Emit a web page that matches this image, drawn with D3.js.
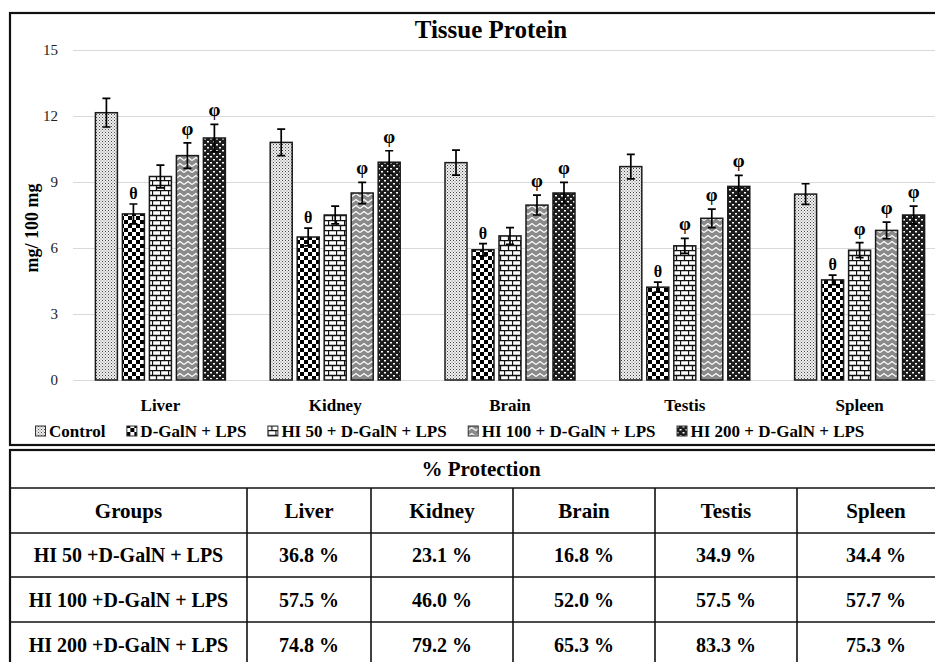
<!DOCTYPE html>
<html>
<head>
<meta charset="utf-8">
<script src="https://cdn.jsdelivr.net/npm/d3@7"></script>
<style>
  body { margin: 0; background: #fff; }
  svg { display: block; font-family: "Liberation Serif", "Times New Roman", serif; }
</style>
</head>
<body>
<svg id="chart" width="935" height="662"></svg>
<script>
// ---- data ----
var organs = ["Liver", "Kidney", "Brain", "Testis", "Spleen"];
var groups = ["Control", "D-GalN + LPS", "HI 50 + D-GalN + LPS", "HI 100 + D-GalN + LPS", "HI 200 + D-GalN + LPS"];

var controlVals = [12.15, 10.8, 9.88, 9.7, 8.45];
var dgalnVals   = [7.55, 6.5, 5.92, 4.22, 4.55];
var hi50Vals    = [9.25, 7.5, 6.55, 6.1, 5.9];
var hi100Vals   = [10.2, 8.5, 7.95, 7.35, 6.8];
var hi200Vals   = [11.0, 9.9, 8.5, 8.8, 7.5];

var controlErr = [0.65, 0.6, 0.57, 0.56, 0.47];
var dgalnErr   = [0.45, 0.4, 0.28, 0.23, 0.22];
var hi50Err    = [0.52, 0.4, 0.38, 0.34, 0.34];
var hi100Err   = [0.58, 0.48, 0.45, 0.42, 0.38];
var hi200Err   = [0.62, 0.52, 0.48, 0.5, 0.4];

var controlMarks = ["", "", "", "", ""];
var dgalnMarks   = ["θ", "θ", "θ", "θ", "θ"];
var hi50Marks    = ["", "", "", "φ", "φ"];
var hi100Marks   = ["φ", "φ", "φ", "φ", "φ"];
var hi200Marks   = ["φ", "φ", "φ", "φ", "φ"];

var yTicks = [0, 3, 6, 9, 12, 15];

var tableTitle = "% Protection";
var tableHeader = ["Groups", "Liver", "Kidney", "Brain", "Testis", "Spleen"];
var tableGroups = ["HI 50 +D-GalN + LPS", "HI 100 +D-GalN + LPS", "HI 200 +D-GalN + LPS"];
var protect50  = ["36.8 %", "23.1 %", "16.8 %", "34.9 %", "34.4 %"];
var protect100 = ["57.5 %", "46.0 %", "52.0 %", "57.5 %", "57.7 %"];
var protect200 = ["74.8 %", "79.2 %", "65.3 %", "83.3 %", "75.3 %"];

var series = [
  { key: groups[0], values: controlVals, err: controlErr, marks: controlMarks, pat: "p-control" },
  { key: groups[1], values: dgalnVals,   err: dgalnErr,   marks: dgalnMarks,   pat: "p-dgaln" },
  { key: groups[2], values: hi50Vals,    err: hi50Err,    marks: hi50Marks,    pat: "p-hi50" },
  { key: groups[3], values: hi100Vals,   err: hi100Err,   marks: hi100Marks,   pat: "p-hi100" },
  { key: groups[4], values: hi200Vals,   err: hi200Err,   marks: hi200Marks,   pat: "p-hi200" }
];

var svg = d3.select("#chart");

// ---- fill patterns ----
var defs = svg.append("defs");

var p = defs.append("pattern").attr("id", "p-control").attr("patternUnits", "userSpaceOnUse")
    .attr("width", 3).attr("height", 3);
p.append("rect").attr("width", 3).attr("height", 3).attr("fill", "#f0f0f0");
p.append("rect").attr("x", 0).attr("y", 0).attr("width", 1).attr("height", 1).attr("fill", "#444");
p.append("rect").attr("x", 1.5).attr("y", 1.5).attr("width", 1).attr("height", 1).attr("fill", "#777");

p = defs.append("pattern").attr("id", "p-dgaln").attr("patternUnits", "userSpaceOnUse")
    .attr("width", 8).attr("height", 8);
p.append("rect").attr("width", 8).attr("height", 8).attr("fill", "#fff");
p.append("rect").attr("x", 0).attr("y", 0).attr("width", 4).attr("height", 4).attr("fill", "#000");
p.append("rect").attr("x", 4).attr("y", 4).attr("width", 4).attr("height", 4).attr("fill", "#000");

p = defs.append("pattern").attr("id", "p-hi50").attr("patternUnits", "userSpaceOnUse")
    .attr("width", 8).attr("height", 10);
p.append("rect").attr("width", 8).attr("height", 10).attr("fill", "#fff");
p.append("path").attr("d", "M0,0.5H8M0,5.5H8M0.5,0V5.5M4.5,5.5V10")
    .attr("stroke", "#111").attr("stroke-width", 1.3).attr("fill", "none");

p = defs.append("pattern").attr("id", "p-hi100").attr("patternUnits", "userSpaceOnUse")
    .attr("width", 8).attr("height", 6);
p.append("rect").attr("width", 8).attr("height", 6).attr("fill", "#8a8a8a");
p.append("path").attr("d", "M0,4.5L4,1.5L8,4.5")
    .attr("stroke", "#fff").attr("stroke-width", 1.3).attr("fill", "none");

p = defs.append("pattern").attr("id", "p-hi200").attr("patternUnits", "userSpaceOnUse")
    .attr("width", 6).attr("height", 6);
p.append("rect").attr("width", 6).attr("height", 6).attr("fill", "#1c1c1c");
p.append("rect").attr("x", 0).attr("y", 0).attr("width", 2).attr("height", 1.5).attr("fill", "#fff");
p.append("rect").attr("x", 3).attr("y", 3).attr("width", 2).attr("height", 1.5).attr("fill", "#fff");

// ---- scales ----
var plotLeft = 73, plotRight = 947, plotTop = 50, plotBottom = 380;

var x0 = d3.scaleBand().domain(organs).range([plotLeft, plotRight]);
var x1 = d3.scaleBand().domain(groups).range([0, x0.bandwidth()])
    .paddingInner(0.185).paddingOuter(0.83);
var y = d3.scaleLinear().domain([0, 15]).range([plotBottom, plotTop]);

// chart frame
svg.append("rect")
    .attr("x", 10).attr("y", 13).attr("width", 945).attr("height", 432)
    .attr("fill", "none").attr("stroke", "#111").attr("stroke-width", 2.2);

// title
svg.append("text")
    .attr("x", 491).attr("y", 38)
    .attr("text-anchor", "middle")
    .attr("font-size", 25).attr("font-weight", "bold")
    .text("Tissue Protein");

// gridlines + y ticks
var yAxis = svg.append("g")
    .attr("transform", "translate(" + plotLeft + ",0)")
    .call(d3.axisLeft(y).tickValues(yTicks).tickSize(-(plotRight - plotLeft)).tickPadding(15));
yAxis.select(".domain").remove();
yAxis.selectAll("line").attr("stroke", "#d9d9d9").attr("stroke-width", 1.2);
yAxis.selectAll("text")
    .attr("font-family", "Liberation Serif, Times New Roman, serif")
    .attr("font-size", 15).attr("fill", "#222");

// y label
svg.append("text")
    .attr("transform", "translate(32,228) rotate(-90)")
    .attr("text-anchor", "middle")
    .attr("dy", "0.35em")
    .attr("font-size", 18).attr("font-weight", "bold")
    .text("mg/ 100 mg");

// bars
function rowsOf(s) {
  return organs.map(function(o, i) { return { s: s, organ: o, v: s.values[i], e: s.err[i], m: s.marks[i] }; });
}

var sg = svg.append("g").selectAll("g")
  .data(series)
  .enter().append("g");

sg.selectAll("rect")
  .data(rowsOf)
  .enter().append("rect")
    .attr("x", function(d) { return x0(d.organ) + x1(d.s.key); })
    .attr("y", function(d) { return y(d.v); })
    .attr("width", x1.bandwidth())
    .attr("height", function(d) { return y(0) - y(d.v); })
    .attr("fill", function(d) { return "url(#" + d.s.pat + ")"; })
    .attr("stroke", "#1a1a1a").attr("stroke-width", 1.5);

// error bars
var eb = sg.selectAll("g.err")
  .data(rowsOf)
  .enter().append("g").attr("class", "err")
    .attr("transform", function(d) { return "translate(" + (x0(d.organ) + x1(d.s.key) + x1.bandwidth() / 2) + ",0)"; });

eb.append("path")
    .attr("d", function(d) {
      var t = y(d.v + d.e), b = y(d.v - d.e);
      return "M0," + t + "V" + b + "M-4," + t + "H4M-4," + b + "H4";
    })
    .attr("stroke", "#000").attr("stroke-width", 1.7).attr("fill", "none");

eb.filter(function(d) { return d.m; }).append("text")
    .attr("y", function(d) { return y(d.v + d.e) - (d.m === "φ" ? 8 : 5); })
    .attr("text-anchor", "middle")
    .attr("font-size", function(d) { return d.m === "φ" ? 19 : 16; })
    .attr("font-weight", "bold")
    .text(function(d) { return d.m; });

// category labels
svg.append("g").selectAll("text")
  .data(organs)
  .enter().append("text")
    .attr("x", function(d) { return x0(d) + x0.bandwidth() / 2; })
    .attr("y", 411)
    .attr("text-anchor", "middle")
    .attr("font-size", 17).attr("font-weight", "bold")
    .text(function(d) { return d; });

// legend
var legend = svg.append("g");
var lx = 35;
series.forEach(function(s) {
  var item = legend.append("g").attr("transform", "translate(" + lx + ",0)");
  item.append("rect")
      .attr("x", 0.5).attr("y", 426).attr("width", 10).attr("height", 10)
      .attr("fill", "url(#" + s.pat + ")").attr("stroke", "#333").attr("stroke-width", 1);
  var t = item.append("text")
      .attr("x", 14).attr("y", 437)
      .attr("font-size", 17).attr("font-weight", "bold")
      .text(s.key);
  lx += 14 + t.node().getComputedTextLength() + 21;
});

// ---- table ----
var colX = [10, 247, 371, 513, 655, 797, 955];
var rowY = [450, 488, 533, 577, 622, 667];
var tbl = svg.append("g");

tbl.append("rect")
    .attr("x", colX[0]).attr("y", rowY[0])
    .attr("width", colX[6] - colX[0]).attr("height", rowY[5] - rowY[0])
    .attr("fill", "none").attr("stroke", "#111").attr("stroke-width", 2.2);

tbl.selectAll("line.h")
  .data(rowY.slice(1, 5))
  .enter().append("line").attr("class", "h")
    .attr("x1", colX[0]).attr("x2", colX[6])
    .attr("y1", function(d) { return d; }).attr("y2", function(d) { return d; })
    .attr("stroke", "#111").attr("stroke-width", 1.6);

tbl.selectAll("line.v")
  .data(colX.slice(1, 6))
  .enter().append("line").attr("class", "v")
    .attr("x1", function(d) { return d; }).attr("x2", function(d) { return d; })
    .attr("y1", rowY[1]).attr("y2", rowY[5])
    .attr("stroke", "#111").attr("stroke-width", 1.6);

tbl.append("text")
    .attr("x", 481).attr("y", (rowY[0] + rowY[1]) / 2)
    .attr("dy", "0.35em").attr("text-anchor", "middle")
    .attr("font-size", 21).attr("font-weight", "bold")
    .text(tableTitle);

var rows = [tableHeader,
  [tableGroups[0]].concat(protect50),
  [tableGroups[1]].concat(protect100),
  [tableGroups[2]].concat(protect200)];

rows.forEach(function(r, ri) {
  tbl.append("g").selectAll("text")
    .data(r)
    .enter().append("text")
      .attr("x", function(d, ci) { return (colX[ci] + colX[ci + 1]) / 2; })
      .attr("y", (rowY[ri + 1] + rowY[ri + 2]) / 2)
      .attr("dy", "0.35em").attr("text-anchor", "middle")
      .attr("font-size", ri === 0 ? 21 : 20).attr("font-weight", "bold")
      .text(function(d) { return d; });
});
</script>
</body>
</html>
